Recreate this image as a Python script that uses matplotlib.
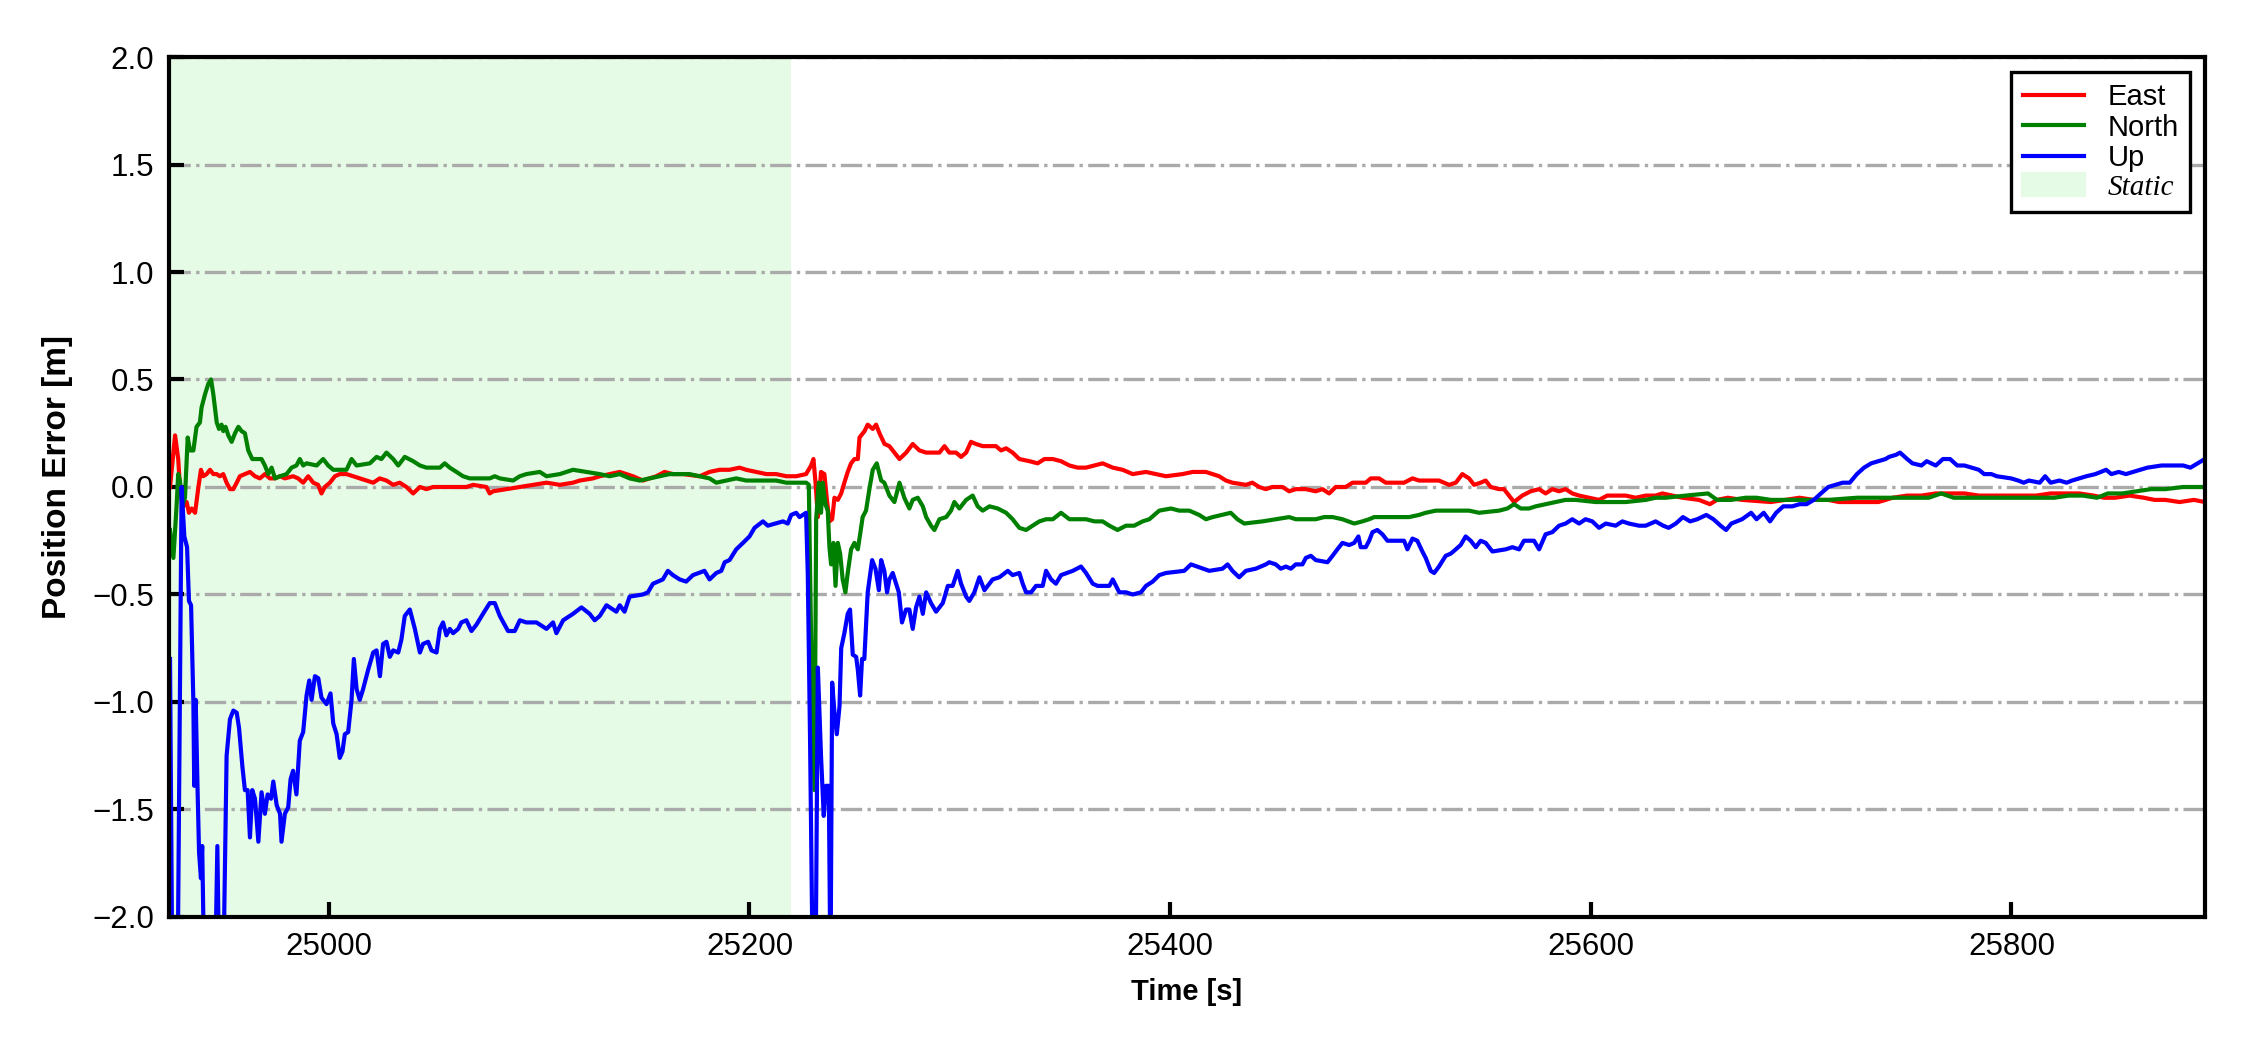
import numpy as np
import matplotlib
matplotlib.use("Agg")
import matplotlib.pyplot as plt
from matplotlib.patches import Patch

plt.rcParams["font.family"] = ["Liberation Sans", "DejaVu Sans"]

# static interval (s)
static_start, static_end = 24924.0, 25219.5

# East error [m]
t_east = [24924.5, 24926.9, 24928.4, 24929.2, 24930.8, 24932.4, 24933.5, 24934.8, 24936.4, 24938.0,
          24939.2, 24940.3, 24941.9, 24943.5, 24945.1, 24946.7, 24948.2, 24949.8, 24951.4, 24953.0,
          24954.6, 24956.2, 24957.7, 24960.1, 24962.5, 24964.9, 24967.2, 24969.6, 24972.0, 24974.4,
          24976.8, 24979.1, 24983.0, 24985.4, 24987.8, 24990.2, 24992.6, 24994.9, 24996.5, 24998.1,
          25000.5, 25002.9, 25005.2, 25008.4, 25011.6, 25014.7, 25017.9, 25021.1, 25024.2, 25027.4,
          25030.6, 25033.7, 25036.9, 25040.1, 25043.3, 25046.4, 25049.6, 25052.8, 25059.1, 25065.4,
          25068.6, 25074.9, 25076.5, 25078.1, 25084.4, 25090.8, 25097.1, 25103.5, 25109.8, 25116.1,
          25119.3, 25125.6, 25128.8, 25133.5, 25138.3, 25144.6, 25149.3, 25152.5, 25155.7, 25159.6,
          25163.6, 25168.4, 25176.3, 25181.0, 25185.8, 25190.5, 25195.3, 25198.4, 25203.2, 25208.0,
          25212.7, 25217.5, 25222.2, 25226.9, 25229.3, 25230.4, 25231.4, 25232.5, 25234.0, 25235.6,
          25236.7, 25238.0, 25239.3, 25240.4, 25242.0, 25243.6, 25245.1, 25246.7, 25248.3, 25249.9,
          25251.5, 25252.3, 25254.7, 25256.2, 25258.6, 25260.2, 25261.8, 25264.2, 25266.5, 25268.9,
          25271.3, 25274.5, 25277.6, 25280.8, 25284.0, 25287.1, 25290.3, 25292.7, 25295.0, 25298.2,
          25300.6, 25303.0, 25305.3, 25307.7, 25310.9, 25317.2, 25319.6, 25322.0, 25325.1, 25328.3,
          25333.1, 25337.0, 25340.2, 25344.2, 25348.1, 25352.1, 25356.0, 25360.0, 25364.0, 25367.9,
          25372.7, 25377.4, 25382.2, 25388.5, 25393.3, 25398.0, 25405.9, 25410.7, 25417.0, 25423.3,
          25426.5, 25429.6, 25436.0, 25439.1, 25442.3, 25445.5, 25448.6, 25453.4, 25456.6, 25459.7,
          25464.5, 25469.2, 25472.4, 25475.6, 25478.7, 25483.5, 25486.7, 25493.0, 25495.4, 25499.3,
          25502.5, 25511.2, 25515.2, 25518.3, 25527.8, 25532.6, 25535.8, 25538.9, 25542.1, 25544.5,
          25547.6, 25550.0, 25552.4, 25556.4, 25558.7, 25561.1, 25563.5, 25567.4, 25571.4, 25575.4,
          25578.5, 25581.7, 25584.9, 25588.0, 25591.2, 25594.4, 25599.1, 25603.9, 25607.8, 25616.6,
          25621.3, 25626.1, 25630.8, 25634.0, 25638.7, 25643.5, 25651.4, 25656.6, 25660.0, 25665.1,
          25671.9, 25685.6, 25692.4, 25699.2, 25706.0, 25712.9, 25718.0, 25723.1, 25736.7, 25743.5,
          25750.4, 25757.2, 25764.0, 25777.6, 25784.5, 25791.3, 25798.1, 25804.9, 25811.7, 25818.6,
          25825.4, 25832.2, 25839.0, 25844.1, 25849.3, 25856.1, 25862.9, 25868.0, 25873.1, 25879.9,
          25886.8, 25891.9]
east = [0.00, 0.24, 0.13, 0.00, -0.09, -0.07, -0.12, -0.10, -0.12, 0.00,
        0.08, 0.05, 0.06, 0.08, 0.06, 0.06, 0.05, 0.06, 0.02, -0.01,
        -0.01, 0.02, 0.05, 0.06, 0.07, 0.05, 0.04, 0.06, 0.04, 0.04,
        0.05, 0.04, 0.05, 0.04, 0.02, 0.05, 0.02, 0.01, -0.03, 0.00,
        0.02, 0.05, 0.06, 0.06, 0.05, 0.04, 0.03, 0.02, 0.04, 0.03,
        0.01, 0.02, 0.00, -0.03, 0.00, -0.01, 0.00, 0.00, 0.00, 0.00,
        0.01, 0.00, -0.03, -0.02, -0.01, 0.00, 0.01, 0.02, 0.01, 0.02,
        0.03, 0.04, 0.05, 0.06, 0.07, 0.05, 0.03, 0.04, 0.05, 0.07,
        0.06, 0.06, 0.05, 0.07, 0.08, 0.08, 0.09, 0.08, 0.07, 0.06,
        0.06, 0.05, 0.05, 0.06, 0.10, 0.13, 0.02, -0.14, 0.07, 0.06,
        -0.05, -0.16, -0.15, -0.05, -0.06, -0.03, 0.02, 0.07, 0.11, 0.13,
        0.13, 0.23, 0.26, 0.29, 0.27, 0.29, 0.25, 0.20, 0.19, 0.16,
        0.13, 0.16, 0.20, 0.17, 0.16, 0.16, 0.16, 0.19, 0.16, 0.16,
        0.14, 0.16, 0.21, 0.20, 0.19, 0.19, 0.17, 0.18, 0.16, 0.13,
        0.12, 0.11, 0.13, 0.13, 0.12, 0.10, 0.09, 0.09, 0.10, 0.11,
        0.09, 0.08, 0.06, 0.07, 0.06, 0.05, 0.06, 0.07, 0.07, 0.05,
        0.03, 0.02, 0.01, 0.02, 0.00, -0.01, 0.00, 0.00, -0.02, -0.01,
        -0.01, -0.02, -0.01, -0.03, 0.00, 0.00, 0.02, 0.02, 0.04, 0.04,
        0.02, 0.02, 0.04, 0.03, 0.03, 0.01, 0.02, 0.06, 0.04, 0.01,
        0.02, 0.03, 0.00, -0.01, -0.01, -0.04, -0.07, -0.04, -0.02, -0.01,
        -0.03, -0.01, -0.02, -0.01, -0.03, -0.04, -0.05, -0.06, -0.04, -0.04,
        -0.05, -0.04, -0.04, -0.03, -0.04, -0.05, -0.06, -0.08, -0.06, -0.05,
        -0.06, -0.07, -0.06, -0.05, -0.06, -0.06, -0.07, -0.07, -0.07, -0.05,
        -0.04, -0.04, -0.03, -0.03, -0.04, -0.04, -0.04, -0.04, -0.04, -0.03,
        -0.03, -0.03, -0.04, -0.05, -0.05, -0.04, -0.05, -0.06, -0.06, -0.07,
        -0.06, -0.07]

# North error [m]
t_north = [24924.5, 24926.1, 24927.6, 24928.4, 24929.2, 24930.3, 24931.6, 24932.9, 24934.0, 24935.6,
           24937.1, 24938.7, 24939.5, 24941.1, 24942.7, 24944.0, 24945.1, 24946.7, 24947.8, 24949.0,
           24949.8, 24950.9, 24952.2, 24953.8, 24955.4, 24957.0, 24958.5, 24960.1, 24961.7, 24963.6,
           24965.7, 24968.0, 24969.6, 24971.2, 24972.8, 24974.4, 24976.8, 24979.9, 24982.3, 24984.6,
           24986.2, 24987.8, 24989.4, 24994.2, 24997.3, 24999.7, 25002.1, 25008.4, 25010.8, 25013.2,
           25019.5, 25022.7, 25025.0, 25027.4, 25030.6, 25033.0, 25036.1, 25040.1, 25043.3, 25046.4,
           25052.8, 25055.1, 25057.5, 25060.7, 25063.8, 25067.0, 25070.2, 25076.5, 25078.9, 25081.3,
           25087.6, 25090.8, 25093.9, 25100.3, 25103.5, 25109.8, 25116.1, 25122.5, 25128.8, 25133.5,
           25138.3, 25143.0, 25147.8, 25152.5, 25157.3, 25162.0, 25166.8, 25171.5, 25176.3, 25181.0,
           25184.2, 25189.0, 25193.7, 25198.4, 25212.7, 25217.5, 25222.2, 25227.0, 25228.2, 25229.3,
           25230.9, 25231.7, 25232.9, 25234.0, 25234.8, 25236.1, 25237.2, 25238.0, 25238.8, 25239.9,
           25240.9, 25242.0, 25243.1, 25244.3, 25245.6, 25246.7, 25248.3, 25249.9, 25251.5, 25252.6,
           25253.8, 25255.4, 25257.0, 25258.6, 25260.5, 25262.6, 25264.1, 25266.5, 25268.9, 25271.3,
           25273.6, 25276.0, 25277.6, 25280.0, 25282.4, 25284.0, 25286.3, 25287.9, 25290.3, 25293.5,
           25295.8, 25297.4, 25299.8, 25303.0, 25306.1, 25308.5, 25310.9, 25314.1, 25318.0, 25322.0,
           25325.1, 25328.3, 25331.5, 25334.6, 25337.8, 25341.0, 25344.2, 25348.1, 25352.1, 25360.0,
           25364.0, 25367.9, 25371.1, 25375.0, 25379.0, 25382.9, 25386.9, 25390.1, 25394.8, 25400.4,
           25404.3, 25409.1, 25413.8, 25417.0, 25420.2, 25428.8, 25432.0, 25435.2, 25443.9, 25456.6,
           25459.7, 25469.2, 25473.2, 25477.2, 25481.9, 25487.5, 25491.4, 25494.6, 25497.0, 25513.6,
           25518.3, 25521.5, 25526.3, 25542.1, 25546.9, 25556.4, 25560.3, 25563.5, 25566.7, 25570.6,
           25573.8, 25578.5, 25583.3, 25588.0, 25592.8, 25602.3, 25616.6, 25626.1, 25630.8, 25635.6,
           25645.1, 25655.7, 25660.0, 25666.8, 25673.6, 25678.8, 25685.6, 25712.9, 25726.5, 25740.1,
           25747.0, 25753.8, 25760.6, 25766.6, 25772.5, 25779.3, 25799.8, 25813.4, 25820.3, 25827.1,
           25833.9, 25840.7, 25845.8, 25852.7, 25859.5, 25866.3, 25873.1, 25881.6, 25888.5, 25891.9]
north = [-0.20, -0.33, -0.09, 0.06, 0.03, -0.09, -0.05, 0.23, 0.17, 0.17,
         0.28, 0.30, 0.37, 0.43, 0.48, 0.50, 0.43, 0.30, 0.27, 0.29,
         0.26, 0.28, 0.24, 0.21, 0.25, 0.28, 0.26, 0.25, 0.17, 0.13,
         0.13, 0.13, 0.10, 0.06, 0.09, 0.04, 0.05, 0.06, 0.09, 0.10,
         0.13, 0.10, 0.11, 0.10, 0.13, 0.10, 0.08, 0.08, 0.13, 0.10,
         0.11, 0.14, 0.13, 0.16, 0.13, 0.10, 0.14, 0.12, 0.10, 0.09,
         0.09, 0.11, 0.09, 0.07, 0.05, 0.04, 0.04, 0.04, 0.05, 0.04,
         0.03, 0.05, 0.06, 0.07, 0.05, 0.06, 0.08, 0.07, 0.06, 0.05,
         0.06, 0.04, 0.03, 0.04, 0.05, 0.06, 0.06, 0.06, 0.05, 0.04,
         0.02, 0.03, 0.04, 0.03, 0.03, 0.02, 0.02, 0.02, 0.01, -0.71,
         -1.41, -0.15, 0.02, -0.12, 0.02, -0.08, -0.11, -0.28, -0.36, -0.26,
         -0.46, -0.26, -0.31, -0.43, -0.49, -0.40, -0.29, -0.26, -0.29, -0.22,
         -0.14, -0.11, -0.01, 0.08, 0.11, 0.03, 0.02, -0.04, -0.07, 0.02,
         -0.05, -0.10, -0.06, -0.05, -0.09, -0.14, -0.18, -0.20, -0.15, -0.14,
         -0.11, -0.07, -0.10, -0.06, -0.04, -0.09, -0.11, -0.09, -0.10, -0.12,
         -0.15, -0.19, -0.20, -0.18, -0.16, -0.15, -0.15, -0.12, -0.15, -0.15,
         -0.16, -0.16, -0.18, -0.20, -0.18, -0.18, -0.16, -0.15, -0.11, -0.10,
         -0.11, -0.11, -0.13, -0.15, -0.14, -0.12, -0.15, -0.17, -0.16, -0.14,
         -0.15, -0.15, -0.14, -0.14, -0.15, -0.17, -0.16, -0.15, -0.14, -0.14,
         -0.13, -0.12, -0.11, -0.11, -0.12, -0.11, -0.10, -0.08, -0.10, -0.10,
         -0.09, -0.08, -0.07, -0.06, -0.06, -0.07, -0.07, -0.06, -0.05, -0.05,
         -0.04, -0.03, -0.06, -0.06, -0.05, -0.05, -0.06, -0.06, -0.05, -0.05,
         -0.05, -0.05, -0.05, -0.03, -0.05, -0.05, -0.05, -0.05, -0.05, -0.04,
         -0.04, -0.05, -0.03, -0.03, -0.02, -0.01, -0.01, 0.00, 0.00, 0.00]

# Up error [m]
t_up = [24924.5, 24925.6, 24928.1, 24930.0, 24931.3, 24932.6, 24933.5, 24934.5, 24935.6, 24936.0,
        24936.7, 24937.6, 24938.3, 24939.2, 24939.8, 24940.8, 24945.9, 24947.0, 24947.9, 24949.8,
        24951.4, 24953.0, 24954.6, 24956.2, 24957.3, 24958.9, 24960.1, 24961.4, 24962.5, 24963.6,
        24964.9, 24966.5, 24968.0, 24969.6, 24970.9, 24972.5, 24973.6, 24975.2, 24976.8, 24977.5,
        24979.1, 24980.7, 24981.8, 24983.0, 24984.6, 24986.2, 24987.8, 24989.4, 24990.7, 24991.8,
        24993.4, 24995.0, 24996.5, 24998.9, 25000.8, 25002.1, 25003.7, 25005.2, 25006.5, 25007.6,
        25009.2, 25010.8, 25011.9, 25013.2, 25014.7, 25016.3, 25018.7, 25021.1, 25022.7, 25024.3,
        25025.8, 25027.4, 25029.0, 25030.6, 25033.0, 25034.5, 25036.1, 25038.5, 25040.9, 25043.3,
        25044.8, 25047.2, 25048.8, 25051.2, 25052.8, 25054.3, 25055.9, 25057.5, 25059.1, 25061.5,
        25063.0, 25065.4, 25067.8, 25070.2, 25073.3, 25076.5, 25078.9, 25081.3, 25085.2, 25088.4,
        25090.8, 25093.9, 25098.7, 25103.5, 25106.6, 25108.2, 25111.4, 25116.1, 25120.1, 25124.0,
        25126.4, 25128.8, 25132.0, 25136.7, 25138.3, 25140.6, 25143.0, 25149.3, 25151.7, 25154.1,
        25158.8, 25161.2, 25163.6, 25166.8, 25169.9, 25173.1, 25178.6, 25181.0, 25184.2, 25186.6,
        25188.2, 25190.5, 25193.7, 25196.9, 25200.0, 25202.4, 25206.4, 25208.7, 25215.9, 25218.2,
        25219.8, 25222.2, 25223.8, 25226.9, 25227.7, 25228.8, 25230.1, 25231.4, 25232.5, 25234.0,
        25235.3, 25236.4, 25237.7, 25238.5, 25239.3, 25240.4, 25241.5, 25242.8, 25243.6, 25245.1,
        25246.7, 25247.8, 25249.1, 25250.7, 25251.5, 25252.6, 25253.5, 25254.6, 25256.2, 25258.3,
        25259.9, 25261.5, 25262.6, 25264.1, 25265.4, 25266.5, 25268.1, 25269.7, 25271.0, 25272.5,
        25274.4, 25276.0, 25277.6, 25279.2, 25280.8, 25282.4, 25284.0, 25286.3, 25288.7, 25291.9,
        25294.3, 25296.6, 25299.0, 25300.6, 25303.0, 25304.5, 25306.9, 25309.3, 25311.7, 25315.6,
        25318.8, 25322.8, 25325.1, 25328.3, 25329.9, 25331.5, 25333.9, 25336.2, 25339.4, 25341.0,
        25343.4, 25345.7, 25348.1, 25353.7, 25357.6, 25360.0, 25363.2, 25365.5, 25371.1, 25372.7,
        25375.8, 25379.0, 25382.2, 25386.1, 25388.5, 25391.7, 25394.8, 25398.0, 25406.7, 25409.9,
        25418.6, 25424.9, 25427.3, 25429.6, 25432.8, 25436.0, 25440.7, 25445.5, 25447.1, 25450.2,
        25452.6, 25455.0, 25457.4, 25459.7, 25462.9, 25464.5, 25466.9, 25469.2, 25474.8, 25477.2,
        25479.5, 25481.9, 25485.1, 25487.5, 25489.5, 25490.6, 25493.0, 25494.6, 25496.2, 25498.5,
        25500.9, 25503.3, 25505.7, 25511.2, 25512.8, 25515.2, 25517.5, 25519.9, 25521.5, 25523.9,
        25525.5, 25527.8, 25531.0, 25533.4, 25535.8, 25538.1, 25540.5, 25542.9, 25545.3, 25547.6,
        25550.0, 25553.2, 25559.5, 25562.7, 25565.9, 25568.2, 25570.6, 25573.0, 25575.4, 25578.5,
        25581.7, 25584.9, 25588.0, 25591.2, 25594.4, 25597.5, 25600.7, 25603.9, 25607.1, 25611.8,
        25615.0, 25618.1, 25622.9, 25626.1, 25630.8, 25634.4, 25637.0, 25640.4, 25643.8, 25647.2,
        25650.6, 25654.9, 25658.3, 25661.7, 25664.3, 25666.8, 25671.9, 25676.2, 25678.8, 25682.2,
        25685.2, 25688.1, 25691.5, 25695.8, 25699.2, 25702.6, 25706.0, 25709.4, 25712.9, 25716.3,
        25719.7, 25723.1, 25726.5, 25729.9, 25733.3, 25736.7, 25740.1, 25741.8, 25745.2, 25747.0,
        25750.4, 25752.9, 25757.2, 25759.7, 25764.0, 25767.4, 25770.8, 25774.2, 25777.6, 25781.1,
        25784.5, 25787.0, 25790.4, 25793.0, 25799.8, 25803.2, 25805.8, 25808.3, 25813.4, 25816.0,
        25818.6, 25822.8, 25826.2, 25828.8, 25832.2, 25835.6, 25839.9, 25842.4, 25845.0, 25847.5,
        25851.0, 25854.4, 25857.8, 25861.2, 25864.6, 25871.4, 25874.8, 25881.6, 25885.1, 25888.5,
        25891.9]
up = [-0.80, -2.30, -2.30, 0.00, -0.23, -0.28, -0.53, -0.55, -1.00, -1.39,
      -0.99, -1.41, -1.70, -1.82, -1.67, -2.30, -2.30, -1.67, -2.30, -2.30,
      -1.25, -1.08, -1.04, -1.05, -1.12, -1.30, -1.41, -1.41, -1.63, -1.41,
      -1.45, -1.65, -1.42, -1.52, -1.43, -1.45, -1.37, -1.48, -1.52, -1.65,
      -1.52, -1.49, -1.36, -1.32, -1.43, -1.18, -1.14, -0.97, -0.90, -0.99,
      -0.88, -0.89, -0.98, -1.01, -0.96, -1.10, -1.15, -1.26, -1.23, -1.15,
      -1.14, -0.99, -0.80, -0.94, -0.99, -0.94, -0.85, -0.77, -0.76, -0.88,
      -0.73, -0.72, -0.79, -0.76, -0.77, -0.71, -0.60, -0.57, -0.66, -0.77,
      -0.73, -0.72, -0.76, -0.77, -0.66, -0.63, -0.69, -0.66, -0.68, -0.66,
      -0.63, -0.62, -0.67, -0.64, -0.59, -0.54, -0.54, -0.60, -0.67, -0.67,
      -0.62, -0.63, -0.63, -0.66, -0.63, -0.68, -0.62, -0.59, -0.56, -0.59,
      -0.62, -0.60, -0.55, -0.58, -0.55, -0.58, -0.51, -0.50, -0.49, -0.45,
      -0.43, -0.39, -0.41, -0.43, -0.44, -0.41, -0.39, -0.43, -0.40, -0.39,
      -0.35, -0.34, -0.29, -0.26, -0.23, -0.19, -0.16, -0.18, -0.16, -0.17,
      -0.13, -0.12, -0.14, -0.12, -0.40, -1.18, -2.30, -2.30, -0.84, -1.25,
      -1.53, -1.39, -1.39, -2.30, -0.91, -1.05, -1.15, -1.02, -0.75, -0.68,
      -0.59, -0.57, -0.78, -0.79, -0.85, -0.97, -0.80, -0.80, -0.49, -0.34,
      -0.38, -0.48, -0.34, -0.39, -0.49, -0.43, -0.40, -0.45, -0.49, -0.63,
      -0.57, -0.57, -0.66, -0.56, -0.51, -0.59, -0.49, -0.54, -0.58, -0.54,
      -0.46, -0.46, -0.39, -0.45, -0.51, -0.53, -0.49, -0.42, -0.48, -0.43,
      -0.42, -0.39, -0.41, -0.40, -0.45, -0.49, -0.49, -0.46, -0.46, -0.39,
      -0.43, -0.45, -0.41, -0.39, -0.37, -0.40, -0.45, -0.46, -0.46, -0.43,
      -0.49, -0.49, -0.50, -0.49, -0.46, -0.44, -0.41, -0.40, -0.39, -0.36,
      -0.39, -0.38, -0.36, -0.39, -0.42, -0.39, -0.38, -0.36, -0.35, -0.36,
      -0.38, -0.37, -0.38, -0.36, -0.36, -0.33, -0.32, -0.34, -0.35, -0.32,
      -0.29, -0.26, -0.27, -0.26, -0.23, -0.28, -0.28, -0.25, -0.21, -0.20,
      -0.22, -0.25, -0.25, -0.25, -0.29, -0.24, -0.25, -0.30, -0.33, -0.39,
      -0.40, -0.37, -0.32, -0.31, -0.29, -0.27, -0.23, -0.25, -0.28, -0.25,
      -0.26, -0.30, -0.29, -0.28, -0.29, -0.25, -0.25, -0.25, -0.29, -0.22,
      -0.21, -0.18, -0.17, -0.15, -0.17, -0.15, -0.16, -0.19, -0.17, -0.18,
      -0.16, -0.17, -0.18, -0.18, -0.16, -0.18, -0.19, -0.17, -0.14, -0.16,
      -0.15, -0.13, -0.15, -0.18, -0.20, -0.17, -0.15, -0.12, -0.15, -0.12,
      -0.16, -0.12, -0.09, -0.09, -0.08, -0.08, -0.06, -0.03, 0.00, 0.01,
      0.02, 0.02, 0.06, 0.09, 0.11, 0.12, 0.13, 0.14, 0.15, 0.16,
      0.13, 0.11, 0.10, 0.12, 0.10, 0.13, 0.13, 0.10, 0.10, 0.09,
      0.08, 0.06, 0.06, 0.05, 0.04, 0.03, 0.02, 0.03, 0.02, 0.05,
      0.02, 0.03, 0.02, 0.03, 0.04, 0.05, 0.06, 0.07, 0.08, 0.06,
      0.07, 0.06, 0.07, 0.08, 0.09, 0.10, 0.10, 0.10, 0.09, 0.11,
      0.13]

fig = plt.figure(figsize=(7.5, 3.5), dpi=300)
ax = fig.add_axes([0.0751, 0.1267, 0.9049, 0.819])

ax.axvspan(static_start, static_end, color="#e6fbe6", lw=0, zorder=0)
ax.plot(t_east, east, color="red", lw=1.0, label="East")
ax.plot(t_north, north, color="green", lw=1.0, label="North")
ax.plot(t_up, up, color="blue", lw=1.0, label="Up")

ax.set_xlim(24924, 25892)
ax.set_ylim(-2.0, 2.0)
ax.set_yticks(np.arange(-2.0, 2.01, 0.5))
ax.set_xticks([25000, 25200, 25400, 25600, 25800])
ax.grid(axis="y", color="#aaaaaa", ls="-.", lw=0.8)
ax.tick_params(direction="in", length=3.5, width=1.0, labelsize=7.5)
for s in ax.spines.values():
    s.set_linewidth(1.0)

ax.set_xlabel("Time [s]", fontsize=7, fontweight="bold")
ax.set_ylabel("Position Error [m]", fontsize=8, fontweight="bold", labelpad=4.8)
ax.yaxis.label.set_y(0.512)

handles = ax.get_legend_handles_labels()[0] + [Patch(color="#e6fbe6", label="Static")]
leg = ax.legend(handles=handles, loc="upper right", fontsize=7, fancybox=False,
                edgecolor="black", framealpha=1, labelspacing=0.08, handlelength=2.1,
                borderpad=0.4)
leg.get_frame().set_linewidth(0.8)
leg.get_texts()[3].set_fontfamily("Liberation Serif")
leg.get_texts()[3].set_fontstyle("italic")

fig.savefig("out.png", dpi=300)
